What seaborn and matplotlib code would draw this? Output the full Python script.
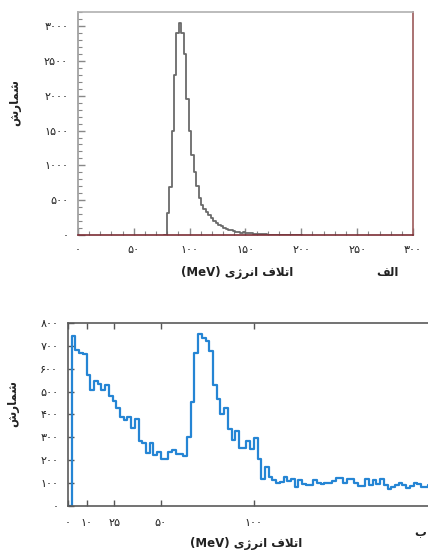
import numpy as np
import pandas as pd
import matplotlib
matplotlib.use("Agg")
import matplotlib.pyplot as plt
from matplotlib.ticker import MultipleLocator
import seaborn as sns

# --- data ---
# (a) energy loss, grey histogram (first bin empty)
top_start = 77.2
top_width = 2.2
top_counts = [0, 312, 694, 1500, 2300, 2900, 3050, 2900, 2600, 1950, 1500,
              1150, 900, 700, 530, 430, 380, 335, 290, 245, 200,
              170, 145, 125, 105, 90, 78, 66, 56, 48, 42,
              36, 40, 30, 24, 26, 18, 14, 12, 15, 10,
              8, 6, 5, 5, 4, 4, 3, 3, 3, 2,
              2, 2, 2, 1, 1]

# (b) energy loss, blue histogram (first bin empty)
bot_start = 0
bot_width = 2
bot_counts = [0, 745, 683, 669, 665, 574, 508, 545, 534, 508, 530,
              479, 457, 428, 391, 377, 391, 343, 380, 282, 274,
              231, 277, 223, 235, 204, 206, 234, 245, 228, 226,
              219, 300, 453, 669, 752, 734, 720, 676, 530, 469,
              401, 428, 336, 289, 326, 253, 253, 282, 248, 299,
              207, 117, 169, 128, 114, 102, 107, 128, 109, 117,
              85, 114, 96, 92, 92, 114, 102, 95, 99, 99,
              109, 121, 121, 102, 118, 118, 102, 89, 89, 117,
              92, 114, 96, 117, 92, 73, 82, 92, 102, 92,
              80, 88, 102, 96, 85, 85, 90]

top_xticks = [0, 50, 100, 150, 200, 250, 300]
top_yticks = [0, 500, 1000, 1500, 2000, 2500, 3000]
bot_xticks = [0, 10, 25, 50, 100]
bot_yticks = [0, 100, 200, 300, 400, 500, 600, 700, 800]

FA = str.maketrans("0123456789", "۰۱۲۳۴۵۶۷۸۹")


def fa(v):
    return str(v).translate(FA)


# tiny arabic shaper (matplotlib has no bidi / joining)
FORMS = {
    "ا": ("\uFE8D", "\uFE8E"),
    "ر": ("\uFEAD", "\uFEAE"),
    "ژ": ("\uFB8A", "\uFB8B"),
    "\uFEFB": ("\uFEFB", "\uFEFC"),  # lam-alef
    "ب": ("\uFE8F", "\uFE90", "\uFE91", "\uFE92"),
    "ت": ("\uFE95", "\uFE96", "\uFE97", "\uFE98"),
    "ش": ("\uFEB5", "\uFEB6", "\uFEB7", "\uFEB8"),
    "ف": ("\uFED1", "\uFED2", "\uFED3", "\uFED4"),
    "ل": ("\uFEDD", "\uFEDE", "\uFEDF", "\uFEE0"),
    "م": ("\uFEE1", "\uFEE2", "\uFEE3", "\uFEE4"),
    "ن": ("\uFEE5", "\uFEE6", "\uFEE7", "\uFEE8"),
    "ی": ("\uFBFC", "\uFBFD", "\uFBFE", "\uFBFF"),
}


def rtl(text):
    chars = list(text.replace("لا", "\uFEFB"))
    out = []
    for i, c in enumerate(chars):
        if c not in FORMS:
            out.append(c)
            continue
        prev = chars[i - 1] if i > 0 else None
        nxt = chars[i + 1] if i < len(chars) - 1 else None
        jp = prev in FORMS and len(FORMS[prev]) == 4
        jn = nxt in FORMS and len(FORMS[c]) == 4
        f = FORMS[c]
        if jp and jn:
            out.append(f[3])
        elif jp:
            out.append(f[1])
        elif jn:
            out.append(f[2])
        else:
            out.append(f[0])
    return "".join(reversed(out))


def hist_frame(start, width, counts):
    edges = start + width * np.arange(len(counts) + 1)
    df = pd.DataFrame({"energy": edges[:-1] + width / 2, "count": counts})
    return df, list(edges)


sns.set_style("ticks")
plt.rcParams["font.family"] = ["DejaVu Sans"]

fig = plt.figure(figsize=(4.28, 5.53), dpi=100)

# --- (a) ---
ax1 = fig.add_axes([0.182, 0.575, 0.783, 0.403])
df1, edges1 = hist_frame(top_start, top_width, top_counts)
sns.histplot(data=df1, x="energy", weights="count", bins=edges1,
             element="step", fill=False, color="#6a6a6a", linewidth=1.3, ax=ax1)
ax1.set_xlim(0, 300)
ax1.set_ylim(0, 3200)
ax1.set_xticks(top_xticks)
ax1.set_xticklabels([fa(v) for v in top_xticks])
ax1.set_yticks(top_yticks)
ax1.set_yticklabels([fa(v) for v in top_yticks])
ax1.xaxis.set_minor_locator(MultipleLocator(10))
ax1.yaxis.set_minor_locator(MultipleLocator(100))
ax1.tick_params(which="both", direction="in", color="#888888", labelsize=8,
                labelcolor="#222222")
ax1.tick_params(which="major", length=5, width=1)
ax1.tick_params(which="minor", length=3, width=0.8)
ax1.tick_params(axis="x", pad=7)
ax1.tick_params(axis="y", pad=7)
ax1.set_xlabel("")
ax1.set_ylabel("")
ax1.spines["top"].set_color("#b0b0b0")
ax1.spines["left"].set_color("#9a9a9a")
ax1.spines["right"].set_color("#9c5a5a")
ax1.spines["bottom"].set_color("#7b2d35")
for s in ax1.spines.values():
    s.set_linewidth(1.2)

# --- (b) ---
ax2 = fig.add_axes([0.159, 0.085, 0.855, 0.331])
df2, edges2 = hist_frame(bot_start, bot_width, bot_counts)
sns.histplot(data=df2, x="energy", weights="count", bins=edges2,
             element="step", fill=False, color="#2585d4", linewidth=1.6, ax=ax2)
ax2.set_xlim(0, 197)
ax2.set_ylim(0, 800)
ax2.set_xticks(bot_xticks)
ax2.set_xticklabels([fa(v) for v in bot_xticks])
ax2.set_yticks(bot_yticks)
ax2.set_yticklabels([fa(v) for v in bot_yticks])
ax2.tick_params(direction="in", top=True, length=4, width=1, color="#555555",
                labelsize=8, labelcolor="#222222")
ax2.tick_params(axis="x", pad=9)
ax2.tick_params(axis="y", pad=7)
ax2.set_xlabel("")
ax2.set_ylabel("")
for s in ax2.spines.values():
    s.set_color("#5a5a5a")
    s.set_linewidth(1.2)

# --- labels ---
xlab = "(MeV) " + rtl("اتلاف انرژی")
ylab = rtl("شمارش")
fig.text(0.554, 0.508, xlab, ha="center", va="center", fontsize=8.5,
         fontweight="bold", color="#222222")
fig.text(0.906, 0.508, rtl("الف"), ha="center", va="center", fontsize=8.5,
         fontweight="bold", color="#222222")
fig.text(0.035, 0.814, ylab, ha="center", va="center", rotation=90,
         fontsize=8.5, fontweight="bold", color="#222222")
fig.text(0.575, 0.018, xlab, ha="center", va="center", fontsize=8.5,
         fontweight="bold", color="#222222")
fig.text(0.030, 0.271, ylab, ha="center", va="center", rotation=90,
         fontsize=8.5, fontweight="bold", color="#222222")
fig.text(0.996, 0.038, rtl("ب"), ha="right", va="center", fontsize=8.5,
         fontweight="bold", color="#222222")

fig.savefig("out.png", dpi=100)
